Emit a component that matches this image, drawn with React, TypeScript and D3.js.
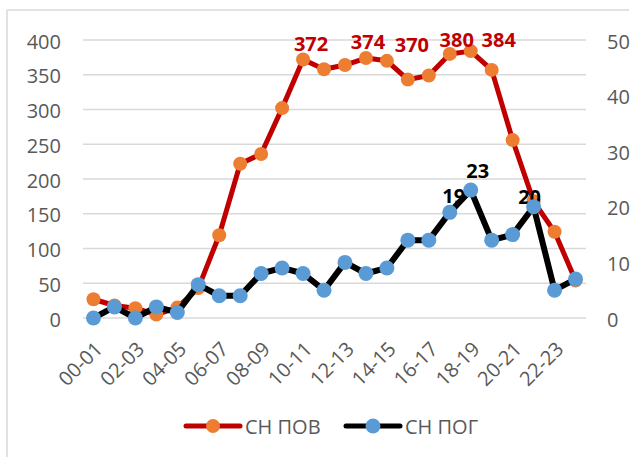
import React from "react";
import * as d3 from "d3";

const categories = [
  "00-01", "01-02", "02-03", "03-04", "04-05", "05-06", "06-07", "07-08",
  "08-09", "09-10", "10-11", "11-12", "12-13", "13-14", "14-15", "15-16",
  "16-17", "17-18", "18-19", "19-20", "20-21", "21-22", "22-23", "23-24",
];
const snPov = [27, 18, 14, 5, 15, 43, 119, 222, 236, 302, 372, 358, 364, 374, 370, 343, 349, 380, 384, 357, 256, 168, 124, 54];
const snPog = [0, 2, 0, 2, 1, 6, 4, 4, 8, 9, 8, 5, 10, 8, 9, 14, 14, 19, 23, 14, 15, 20, 5, 7];
const leftTicks = [0, 50, 100, 150, 200, 250, 300, 350, 400];
const rightTicks = [0, 10, 20, 30, 40, 50];
const povLabels = [10, 13, 14, 17, 18];
const pogLabels = [17, 18, 21];
const seriesNames = ["СН ПОВ", "СН ПОГ"];

const RED = "#C00000";
const ORANGE = "#ED7D31";
const BLUE = "#5B9BD5";
const GREY = "#595959";
const FONT = "'Open Sans', sans-serif";

// label nudges, like the manual moves in the original
const povNudge: Record<number, [number, number]> = {
  10: [8, -16], 13: [2, -17], 14: [25, -16], 17: [7, -14], 18: [28, -12],
};
const pogNudge: Record<number, [number, number]> = {
  17: [4, -17], 18: [7, -20], 21: [-4, -10],
};

export default function App() {
  const width = 639;
  const height = 457;
  const left = 83;
  const right = 586;
  const top = 40;
  const bottom = 318;

  const x = d3.scaleBand().domain(categories).range([left, right]);
  const cx = (i: number) => (x(categories[i]) as number) + x.bandwidth() / 2;
  const yL = d3.scaleLinear().domain([0, 400]).range([bottom, top]);
  const yR = d3.scaleLinear().domain([0, 50]).range([bottom, top]);

  const povLine = d3.line<number>().x((d, i) => cx(i)).y((d) => yL(d));
  const pogLine = d3.line<number>().x((d, i) => cx(i)).y((d) => yR(d));

  return (
    <svg width={width} height={height} style={{ position: "absolute", left: 0, top: 0 }} fontFamily={FONT}>
      <rect width={width} height={height} fill="#fff" />
      <line x1={7} y1={10} x2={629} y2={10} stroke="#d9d9d9" strokeWidth={1.5} />
      <line x1={7} y1={10} x2={7} y2={height} stroke="#d9d9d9" strokeWidth={1.5} />

      {leftTicks.map((t) => (
        <g key={t}>
          <line x1={left} x2={right} y1={yL(t)} y2={yL(t)} stroke="#d9d9d9" strokeWidth={1.3} />
          <text x={61} y={yL(t) + 1} textAnchor="end" dominantBaseline="central" fontSize={20} fill={GREY}>
            {t}
          </text>
        </g>
      ))}
      {rightTicks.map((t) => (
        <text key={t} x={607} y={yR(t) + 1} dominantBaseline="central" fontSize={20} fill={GREY}>
          {t}
        </text>
      ))}
      {categories.map((c, i) =>
        i % 2 === 0 ? (
          <text
            key={c}
            transform={`translate(${cx(i) + 5},${bottom + 27}) rotate(-45)`}
            textAnchor="end"
            dominantBaseline="central"
            fontSize={20}
            fill={GREY}
          >
            {c}
          </text>
        ) : null
      )}

      <path d={povLine(snPov) ?? ""} fill="none" stroke={RED} strokeWidth={5} strokeLinejoin="round" />
      {snPov.map((v, i) => (
        <circle key={i} cx={cx(i)} cy={yL(v)} r={7} fill={ORANGE} />
      ))}

      {pogLabels.map((i) => (
        <text
          key={i}
          x={cx(i) + pogNudge[i][0]}
          y={yR(snPog[i]) + pogNudge[i][1]}
          textAnchor="middle"
          dominantBaseline="central"
          fontSize={20}
          fontWeight="bold"
          fill="#000"
        >
          {snPog[i]}
        </text>
      ))}

      <path d={pogLine(snPog) ?? ""} fill="none" stroke="#000" strokeWidth={6} strokeLinejoin="round" />
      {snPog.map((v, i) => (
        <circle key={i} cx={cx(i)} cy={yR(v)} r={7.5} fill={BLUE} />
      ))}

      {povLabels.map((i) => (
        <text
          key={i}
          x={cx(i) + povNudge[i][0]}
          y={yL(snPov[i]) + povNudge[i][1]}
          textAnchor="middle"
          dominantBaseline="central"
          fontSize={20}
          fontWeight="bold"
          fill={RED}
        >
          {snPov[i]}
        </text>
      ))}

      <g transform="translate(0,426)">
        <line x1={186} x2={240} stroke={RED} strokeWidth={5} strokeLinecap="round" />
        <circle cx={213} r={7} fill={ORANGE} />
        <text x={245} dominantBaseline="central" fontSize={20} fill={GREY}>
          {seriesNames[0]}
        </text>
        <line x1={346} x2={400} stroke="#000" strokeWidth={5} strokeLinecap="round" />
        <circle cx={373} r={7.5} fill={BLUE} />
        <text x={405} dominantBaseline="central" fontSize={20} fill={GREY}>
          {seriesNames[1]}
        </text>
      </g>
    </svg>
  );
}
